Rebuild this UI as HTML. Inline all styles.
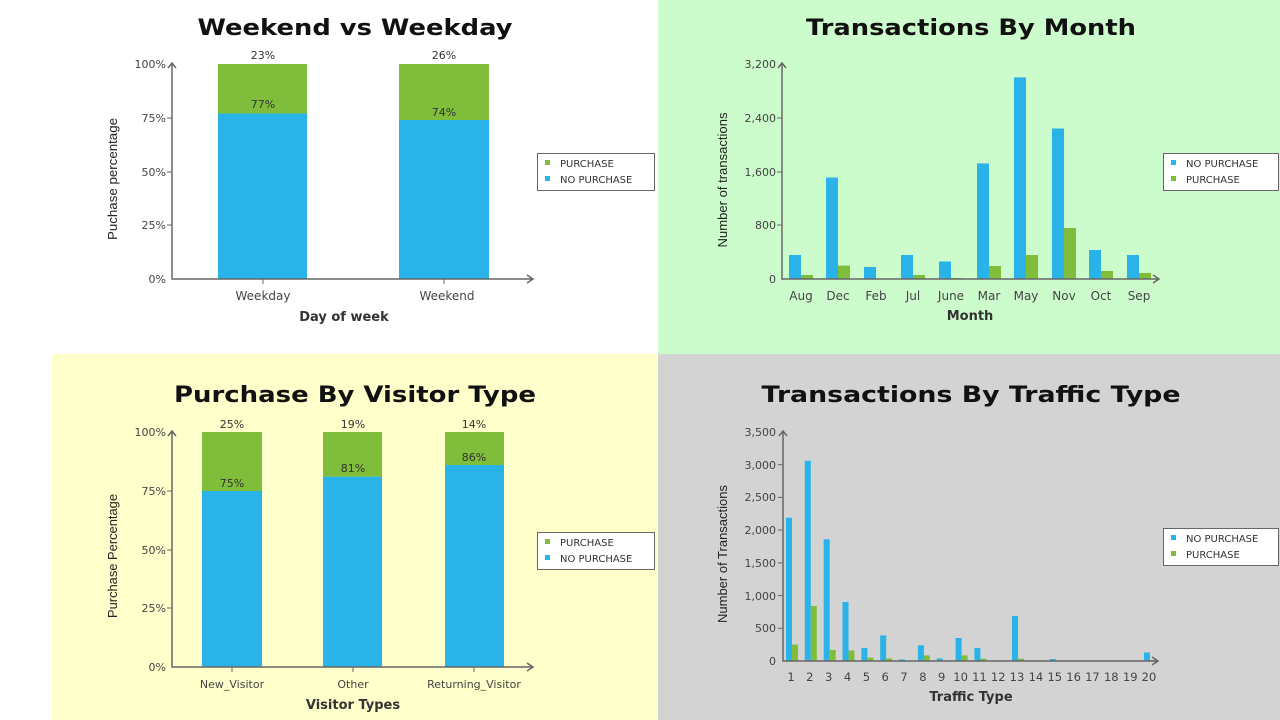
<!DOCTYPE html>
<html><head><meta charset="utf-8"><style>
html,body{margin:0;padding:0;background:#fff;}
svg{display:block;font-family:"DejaVu Sans","Liberation Sans",sans-serif;}
.t{font-weight:bold;font-size:22px;fill:#111;text-anchor:middle;}
.tk{font-size:11px;fill:#444;}
.xl{font-size:12px;fill:#444;text-anchor:middle;}
.at{font-size:13px;font-weight:bold;fill:#333;text-anchor:middle;}
.yt{font-size:13px;fill:#222;font-family:"Liberation Sans",sans-serif;text-anchor:middle;}
.lg{font-size:10px;fill:#333;}
.pl{font-size:11px;fill:#333;text-anchor:middle;}
.ax{stroke:#666;stroke-width:1.5;fill:none;}
</style></head><body>
<svg width="1280" height="720" viewBox="0 0 1280 720">
<rect x="0" y="0" width="658" height="354" fill="#ffffff"/>
<rect x="658" y="0" width="622" height="354" fill="#ccfccc"/>
<rect x="0" y="354" width="52" height="366" fill="#ffffff"/>
<rect x="52" y="354" width="606" height="366" fill="#ffffcc"/>
<rect x="658" y="354" width="622" height="366" fill="#d3d3d3"/>

<!-- Chart 1 -->
<text class="t" x="355" y="35" textLength="315" lengthAdjust="spacingAndGlyphs">Weekend vs Weekday</text>
<rect x="218" y="113.5" width="89" height="165.5" fill="#29b3e8"/>
<rect x="218" y="64" width="89" height="49.5" fill="#80bd3a"/>
<rect x="399" y="120" width="90" height="159" fill="#29b3e8"/>
<rect x="399" y="64" width="90" height="56" fill="#80bd3a"/>
<text class="pl" x="263" y="59">23%</text><text class="pl" x="444" y="59">26%</text>
<text class="pl" x="263" y="108">77%</text><text class="pl" x="444" y="116">74%</text>
<path class="ax" d="M172,64 V279 H532 M527,275 L533,279 L527,283 M168,68 L172,63 L176,68"/>
<g class="tk" text-anchor="end"><text x="166" y="68">100%</text><text x="166" y="122">75%</text><text x="166" y="176">50%</text><text x="166" y="229">25%</text><text x="166" y="283">0%</text></g>
<path stroke="#666" d="M167,118H172M167,172H172M167,225H172M263,279V284M444,279V284"/>
<text class="xl" x="263" y="300">Weekday</text><text class="xl" x="447" y="300">Weekend</text>
<text class="at" x="344" y="321">Day of week</text>
<text class="yt" transform="translate(117,179) rotate(-90)" textLength="122" lengthAdjust="spacingAndGlyphs">Puchase percentage</text>
<rect x="537.5" y="153.5" width="117" height="37" fill="#fff" stroke="#666"/>
<rect x="545" y="160" width="5" height="5" fill="#80bd3a"/><text class="lg" x="560" y="167">PURCHASE</text>
<rect x="545" y="176" width="5" height="5" fill="#29b3e8"/><text class="lg" x="560" y="183">NO PURCHASE</text>

<!-- Chart 2 -->
<text class="t" x="971" y="35" textLength="330" lengthAdjust="spacingAndGlyphs">Transactions By Month</text>
<g fill="#29b3e8">
<rect x="789" y="255" width="12" height="24"/><rect x="826" y="177.5" width="12" height="101.5"/><rect x="864" y="267" width="12" height="12"/><rect x="901" y="255" width="12" height="24"/><rect x="939" y="261.5" width="12" height="17.5"/><rect x="977" y="163.4" width="12" height="115.6"/><rect x="1014" y="77.4" width="12" height="201.6"/><rect x="1052" y="128.5" width="12" height="150.5"/><rect x="1089" y="250" width="12" height="29"/><rect x="1127" y="255" width="12" height="24"/>
</g>
<g fill="#80bd3a">
<rect x="801" y="275" width="12" height="4"/><rect x="838" y="265.6" width="12" height="13.4"/><rect x="876" y="278.5" width="12" height="0.5"/><rect x="913" y="275" width="12" height="4"/><rect x="951" y="278" width="12" height="1"/><rect x="989" y="266" width="12" height="13"/><rect x="1026" y="255" width="12" height="24"/><rect x="1064" y="228" width="12" height="51"/><rect x="1101" y="271" width="12" height="8"/><rect x="1139" y="273" width="12" height="6"/>
</g>
<path class="ax" d="M782,64 V279 H1158 M1153,275 L1159,279 L1153,283 M778,68 L782,63 L786,68"/>
<g class="tk" text-anchor="end"><text x="776" y="68">3,200</text><text x="776" y="122">2,400</text><text x="776" y="176">1,600</text><text x="776" y="229">800</text><text x="776" y="283">0</text></g>
<path stroke="#666" d="M777,118H782M777,172H782M777,225H782"/>
<g class="xl"><text x="801" y="300">Aug</text><text x="838" y="300">Dec</text><text x="876" y="300">Feb</text><text x="913" y="300">Jul</text><text x="951" y="300">June</text><text x="989" y="300">Mar</text><text x="1026" y="300">May</text><text x="1064" y="300">Nov</text><text x="1101" y="300">Oct</text><text x="1139" y="300">Sep</text></g>
<text class="at" x="970" y="320">Month</text>
<text class="yt" transform="translate(727,180) rotate(-90)" textLength="135" lengthAdjust="spacingAndGlyphs">Number of transactions</text>
<rect x="1163.5" y="153.5" width="115" height="37" fill="#fff" stroke="#666"/>
<rect x="1171" y="160" width="5" height="5" fill="#29b3e8"/><text class="lg" x="1186" y="167">NO PURCHASE</text>
<rect x="1171" y="176" width="5" height="5" fill="#80bd3a"/><text class="lg" x="1186" y="183">PURCHASE</text>

<!-- Chart 3 -->
<text class="t" x="355" y="402" textLength="362" lengthAdjust="spacingAndGlyphs">Purchase By Visitor Type</text>
<rect x="202" y="491" width="60" height="176" fill="#29b3e8"/><rect x="202" y="432" width="60" height="59" fill="#80bd3a"/>
<rect x="323" y="476.6" width="59" height="190.4" fill="#29b3e8"/><rect x="323" y="432" width="59" height="44.6" fill="#80bd3a"/>
<rect x="445" y="465" width="59" height="202" fill="#29b3e8"/><rect x="445" y="432" width="59" height="33" fill="#80bd3a"/>
<text class="pl" x="232" y="428">25%</text><text class="pl" x="353" y="428">19%</text><text class="pl" x="474" y="428">14%</text>
<text class="pl" x="232" y="487">75%</text><text class="pl" x="353" y="472">81%</text><text class="pl" x="474" y="461">86%</text>
<path class="ax" d="M172,432 V667 H532 M527,663 L533,667 L527,671 M168,436 L172,431 L176,436"/>
<g class="tk" text-anchor="end"><text x="166" y="436">100%</text><text x="166" y="495">75%</text><text x="166" y="554">50%</text><text x="166" y="612">25%</text><text x="166" y="671">0%</text></g>
<path stroke="#666" d="M167,491H172M167,550H172M167,608H172M232,667V672M353,667V672M474,667V672"/>
<g class="xl" style="font-size:11px"><text x="232" y="688">New_Visitor</text><text x="353" y="688">Other</text><text x="474" y="688">Returning_Visitor</text></g>
<text class="at" x="353" y="709">Visitor Types</text>
<text class="yt" transform="translate(117,556) rotate(-90)" textLength="124" lengthAdjust="spacingAndGlyphs">Purchase Percentage</text>
<rect x="537.5" y="532.5" width="117" height="37" fill="#fff" stroke="#666"/>
<rect x="545" y="539" width="5" height="5" fill="#80bd3a"/><text class="lg" x="560" y="546">PURCHASE</text>
<rect x="545" y="555" width="5" height="5" fill="#29b3e8"/><text class="lg" x="560" y="562">NO PURCHASE</text>

<!-- Chart 4 -->
<text class="t" x="971" y="402" textLength="419" lengthAdjust="spacingAndGlyphs">Transactions  By Traffic Type</text>
<g fill="#29b3e8">
<rect x="786" y="517.7" width="6" height="143.3"/><rect x="804.8" y="460.8" width="6" height="200.2"/><rect x="823.7" y="539.3" width="6" height="121.7"/><rect x="842.5" y="602" width="6" height="59"/><rect x="861.4" y="648" width="6" height="13"/><rect x="880.2" y="635.5" width="6" height="25.5"/><rect x="899" y="659.4" width="6" height="1.6"/><rect x="917.9" y="645.3" width="6" height="15.7"/><rect x="936.7" y="658.4" width="6" height="2.6"/><rect x="955.6" y="638" width="6" height="23"/><rect x="974.4" y="648" width="6" height="13"/><rect x="1012" y="616" width="6" height="45"/><rect x="1049.8" y="659" width="6" height="2"/><rect x="1144" y="652.5" width="6" height="8.5"/>
</g>
<g fill="#80bd3a">
<rect x="792" y="644.6" width="6" height="16.4"/><rect x="810.8" y="606" width="6" height="55"/><rect x="829.7" y="650" width="6" height="11"/><rect x="848.5" y="650.5" width="6" height="10.5"/><rect x="867.4" y="657.7" width="6" height="3.3"/><rect x="886.2" y="658.4" width="6" height="2.6"/><rect x="923.9" y="655.4" width="6" height="5.6"/><rect x="961.6" y="655.4" width="6" height="5.6"/><rect x="980.4" y="658.7" width="6" height="2.3"/><rect x="1018" y="658.7" width="6" height="2.3"/><rect x="1150" y="660" width="6" height="1"/>
</g>
<path class="ax" d="M783,432 V661 H1157 M1152,657 L1158,661 L1152,665 M779,436 L783,431 L787,436"/>
<g class="tk" text-anchor="end"><text x="776" y="436">3,500</text><text x="776" y="469">3,000</text><text x="776" y="501">2,500</text><text x="776" y="534">2,000</text><text x="776" y="567">1,500</text><text x="776" y="600">1,000</text><text x="776" y="632">500</text><text x="776" y="665">0</text></g>
<path stroke="#666" d="M778,464.7H783M778,497.4H783M778,530H783M778,562.9H783M778,595.6H783M778,628.3H783"/>
<g class="xl" style="font-size:11.5px">
<text x="791" y="681">1</text><text x="809.8" y="681">2</text><text x="828.7" y="681">3</text><text x="847.5" y="681">4</text><text x="866.4" y="681">5</text><text x="885.2" y="681">6</text><text x="904" y="681">7</text><text x="922.9" y="681">8</text><text x="941.7" y="681">9</text><text x="960.6" y="681">10</text><text x="979.4" y="681">11</text><text x="998.2" y="681">12</text><text x="1017" y="681">13</text><text x="1035.9" y="681">14</text><text x="1054.8" y="681">15</text><text x="1073.6" y="681">16</text><text x="1092.4" y="681">17</text><text x="1111.3" y="681">18</text><text x="1130.2" y="681">19</text><text x="1149" y="681">20</text>
</g>
<text class="at" x="971" y="701">Traffic Type</text>
<text class="yt" transform="translate(727,554) rotate(-90)" textLength="138" lengthAdjust="spacingAndGlyphs">Number of Transactions</text>
<rect x="1163.5" y="528.5" width="115" height="37" fill="#fff" stroke="#666"/>
<rect x="1171" y="535" width="5" height="5" fill="#29b3e8"/><text class="lg" x="1186" y="542">NO PURCHASE</text>
<rect x="1171" y="551" width="5" height="5" fill="#80bd3a"/><text class="lg" x="1186" y="558">PURCHASE</text>
</svg>
</body></html>
